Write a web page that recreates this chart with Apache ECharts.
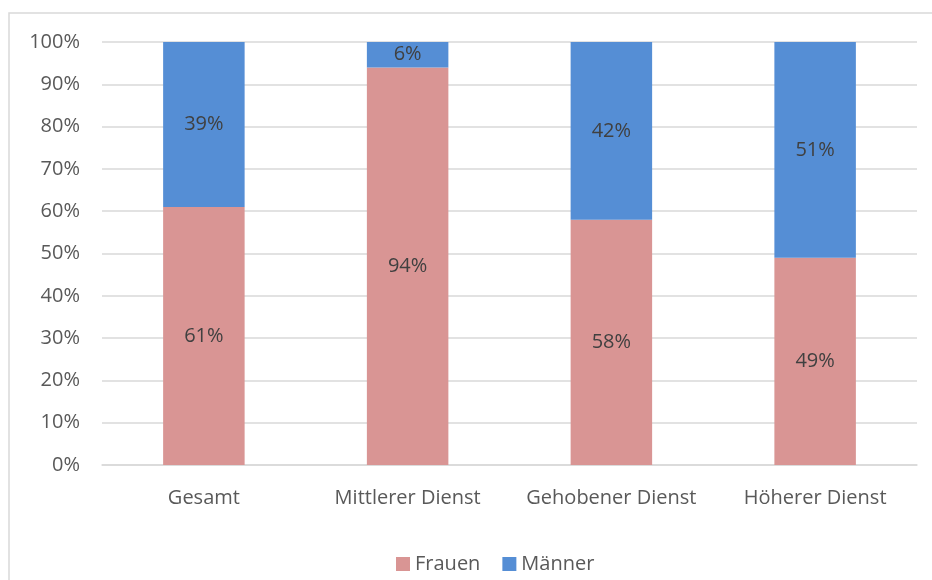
<!DOCTYPE html>
<html>
<head>
<meta charset="utf-8">
<script src="https://cdn.jsdelivr.net/npm/echarts@6/dist/echarts.min.js"></script>
<style>
  html, body { margin: 0; padding: 0; background: #fff; }
  #chart { width: 932px; height: 580px; }
</style>
</head>
<body>
<div id="chart"></div>
<script>
// Anteil von Frauen und Männern je Laufbahngruppe (in %)
const categories = ['Gesamt', 'Mittlerer Dienst', 'Gehobener Dienst', 'Höherer Dienst'];
const frauen = [61, 94, 58, 49];
const maenner = [39, 6, 42, 51];
const yTicks = [0, 10, 20, 30, 40, 50, 60, 70, 80, 90, 100];

const textColor = '#595959';
const fontFamily = '"Open Sans", "Noto Sans", sans-serif';
const fontSize = 20;

const chart = echarts.init(document.getElementById('chart'), null, { renderer: 'canvas' });

const labelStyle = {
  show: true,
  position: 'inside',
  formatter: p => p.value + '%',
  color: '#404040',
  fontSize: fontSize,
  fontFamily: fontFamily
};

chart.setOption({
  animation: false,
  backgroundColor: '#fff',
  graphic: [{
    type: 'rect',
    shape: { x: 9, y: 13, width: 1000, height: 700 },
    style: { fill: 'none', stroke: '#d9d9d9', lineWidth: 1.5 },
    silent: true,
    z: -1
  }],
  grid: { left: 102, right: 15, top: 42, bottom: 115, containLabel: false },
  legend: {
    bottom: 1,
    left: 391,
    itemWidth: 14,
    itemHeight: 14,
    itemGap: 22,
    icon: 'rect',
    textStyle: { color: textColor, fontSize: fontSize, fontFamily: fontFamily },
    data: ['Frauen', 'Männer']
  },
  xAxis: {
    type: 'category',
    data: categories,
    axisLine: { lineStyle: { color: '#d9d9d9', width: 1.5 } },
    axisTick: { show: false },
    axisLabel: {
      interval: 0,
      hideOverlap: false,
      color: textColor, fontSize: fontSize, fontFamily: fontFamily, margin: 23
    }
  },
  yAxis: {
    type: 'value',
    min: yTicks[0],
    max: yTicks[yTicks.length - 1],
    interval: 10,
    axisLine: { show: false },
    axisTick: { show: false },
    splitLine: { lineStyle: { color: '#d9d9d9', width: 1.5 } },
    axisLabel: {
      color: textColor, fontSize: fontSize, fontFamily: fontFamily, margin: 22,
      formatter: v => v + '%'
    }
  },
  series: [
    {
      name: 'Frauen',
      type: 'bar',
      stack: 'total',
      barWidth: '40%',
      data: frauen,
      itemStyle: { color: '#D99594' },
      label: labelStyle
    },
    {
      name: 'Männer',
      type: 'bar',
      stack: 'total',
      barWidth: '40%',
      data: maenner,
      itemStyle: { color: '#558ED5' },
      label: labelStyle
    }
  ]
});
</script>
</body>
</html>
